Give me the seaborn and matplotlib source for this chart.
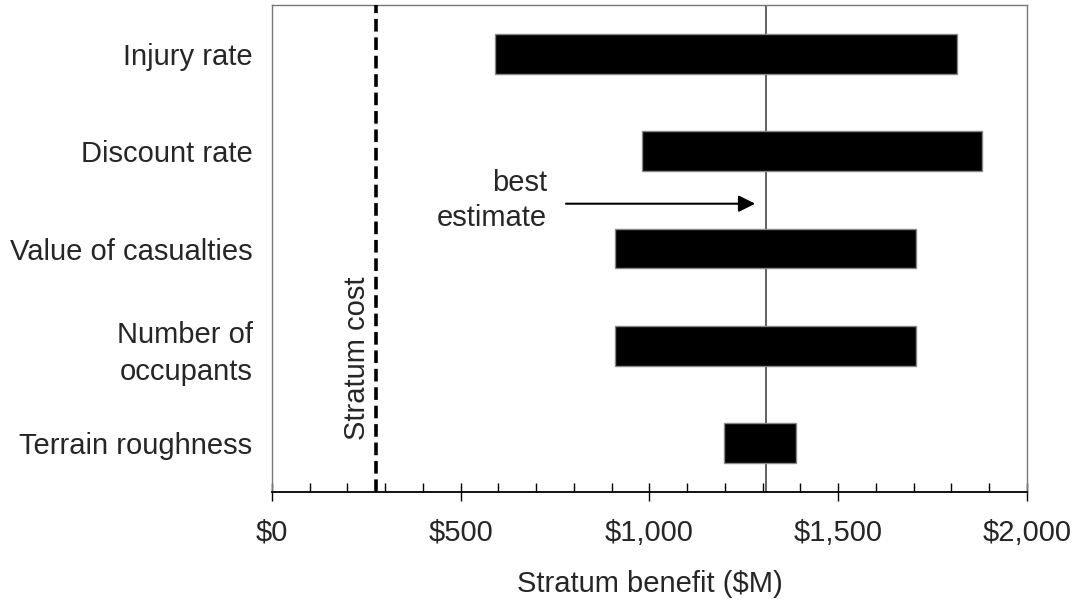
import matplotlib
matplotlib.use("Agg")
import matplotlib.pyplot as plt
from matplotlib.ticker import MultipleLocator, StrMethodFormatter
import pandas as pd
import seaborn as sns

# tornado chart: stratum benefit range per uncertain input
factors = ["Injury rate", "Discount rate", "Value of casualties",
           "Number of\noccupants", "Terrain roughness"]
low = [591, 981, 910, 910, 1198]
high = [1816, 1881, 1707, 1707, 1388]
best_estimate = 1308
stratum_cost = 275

df = pd.DataFrame({"factor": factors, "low": low, "high": high})
df["span"] = df["high"] - df["low"]

sns.set_style("white")
plt.rcParams["font.family"] = ["Liberation Sans", "DejaVu Sans"]
FS = 21

fig = plt.figure(figsize=(10.81, 6.02), dpi=100)
ax = fig.add_axes([0.2516, 0.1827, 0.6984, 0.809])

ax.axvline(best_estimate, color="#555555", lw=1.3, zorder=1)
sns.barplot(data=df, y="factor", x="span", left=df["low"], orient="h",
            color="black", saturation=1, width=0.41,
            edgecolor="#888888", linewidth=1, ax=ax, zorder=2)
ax.axvline(stratum_cost, color="black", lw=2.6, ls=(0, (3.5, 1.6)), zorder=3)

ax.set_xlim(0, 2000)
ax.set_ylim(4.5, -0.5)
ax.xaxis.set_major_locator(MultipleLocator(500))
ax.xaxis.set_minor_locator(MultipleLocator(100))
ax.xaxis.set_major_formatter(StrMethodFormatter("${x:,.0f}"))
ax.tick_params(axis="x", which="major", direction="inout", length=12.5,
               width=1, color="black", labelsize=FS, pad=13, bottom=True)
ax.tick_params(axis="x", which="minor", direction="in", length=6.5,
               width=1, color="black", bottom=True)
ax.tick_params(axis="y", length=0, labelsize=FS, pad=14)
for lbl in ax.get_yticklabels():
    lbl.set_linespacing(1.4)
ax.set_xlabel("Stratum benefit ($M)", fontsize=FS, labelpad=17)
ax.set_ylabel("")

for side in ["top", "left", "right"]:
    ax.spines[side].set_color("#777777")
    ax.spines[side].set_linewidth(1)
ax.spines["bottom"].set_color("black")
ax.spines["bottom"].set_linewidth(1.3)

ax.annotate("", xy=(1280, 1.54), xytext=(779, 1.54),
            arrowprops=dict(arrowstyle="-|>", color="black", lw=1.5,
                            mutation_scale=25, shrinkA=0, shrinkB=0))
ax.text(728, 1.51, "best\nestimate", ha="right", va="center",
        fontsize=FS, multialignment="right", linespacing=1.3)
ax.text(226, 3.13, "Stratum cost", rotation=90, ha="center", va="center",
        fontsize=FS)

fig.savefig("out.png", dpi=100)
